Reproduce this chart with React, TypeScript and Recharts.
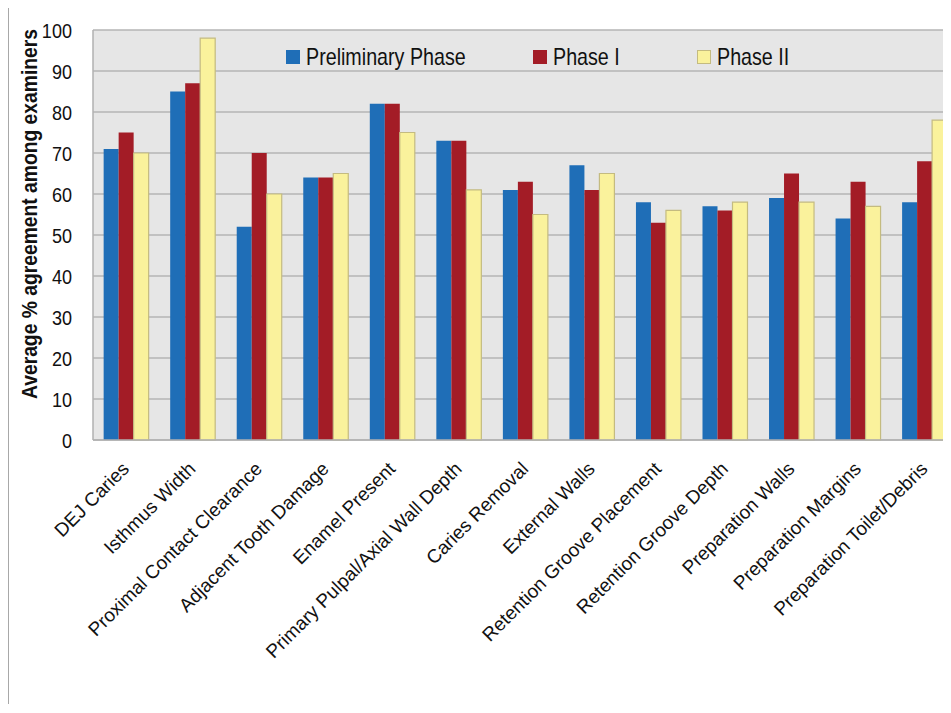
import React from 'react'
import { BarChart, Bar, XAxis, YAxis, CartesianGrid } from 'recharts'

// Criteria on the x axis
const categories = [
  'DEJ Caries',
  'Isthmus Width',
  'Proximal Contact Clearance',
  'Adjacent Tooth Damage',
  'Enamel Present',
  'Primary Pulpal/Axial Wall Depth',
  'Caries Removal',
  'External Walls',
  'Retention Groove Placement',
  'Retention Groove Depth',
  'Preparation Walls',
  'Preparation Margins',
  'Preparation Toilet/Debris',
]

// Average % agreement among examiners, per phase
const preliminaryPhase = [71, 85, 52, 64, 82, 73, 61, 67, 58, 57, 59, 54, 58]
const phaseI = [75, 87, 70, 64, 82, 73, 63, 61, 53, 56, 65, 63, 68]
const phaseII = [70, 98, 60, 65, 75, 61, 55, 65, 56, 58, 58, 57, 78]

const seriesNames = ['Preliminary Phase', 'Phase I', 'Phase II']
const yTicks = [0, 10, 20, 30, 40, 50, 60, 70, 80, 90, 100]

const COLORS = ['#1f6eb7', '#a31c26', '#faf29c']
const STROKES = ['none', 'none', '#c4bb80']
const KEYS = ['pre', 'p1', 'p2']
const LEGEND_LEFT = [277, 524, 688]

const SANS = '"Liberation Sans", Arial, sans-serif'

const data = categories.map((name, i) => ({
  name,
  pre: preliminaryPhase[i],
  p1: phaseI[i],
  p2: phaseII[i],
}))

const XTick = (props: any) => {
  const { x, y, payload } = props
  return (
    <g transform={`translate(${x + 4},${y + 30})`}>
      <text
        transform="rotate(-45)"
        textAnchor="end"
        fontFamily={SANS}
        fontSize={19}
        fill="#111"
      >
        {payload.value}
      </text>
    </g>
  )
}

// narrow-looking tick digits (condensed font is not installed)
const YTick = (props: any) => {
  const { x, y, payload } = props
  return (
    <g transform={`translate(${x},${y})`}>
      <text
        transform="scale(0.86,1)"
        textAnchor="end"
        dy="0.36em"
        fontFamily={SANS}
        fontSize={21}
        fill="#111"
      >
        {payload.value}
      </text>
    </g>
  )
}

const YLabel = () => (
  <text
    transform="translate(28,206) rotate(-90)"
    textAnchor="middle"
    fontFamily={SANS}
    fontWeight="bold"
    fontSize={22}
    textLength={370}
    lengthAdjust="spacingAndGlyphs"
    fill="#111"
  >
    Average % agreement among examiners
  </text>
)

export default function App() {
  return (
    <div
      style={{
        position: 'relative',
        width: 942,
        height: 696,
        marginTop: -1,
        borderLeft: '1px solid #a8a8a8',
        borderTop: '1px solid #a8a8a8',
        overflow: 'hidden',
        background: '#fff',
      }}
    >
      <BarChart
        width={949}
        height={696}
        data={data}
        margin={{ top: 22, right: 0, bottom: 0, left: 0 }}
        barCategoryGap="16%"
        barGap={0}
      >
        <CartesianGrid
          vertical={false}
          fill="#e6e6e6"
          stroke="#b4b4b4"
          strokeWidth={1.5}
        />
        <XAxis
          dataKey="name"
          height={264}
          interval={0}
          tickLine={false}
          tickSize={0}
          tickMargin={0}
          axisLine={{ stroke: '#b0b0b0', strokeWidth: 1.5 }}
          tick={<XTick />}
        />
        <YAxis
          width={84}
          domain={[0, 100]}
          ticks={yTicks}
          interval={0}
          tickLine={false}
          tickSize={0}
          tickMargin={21}
          axisLine={{ stroke: '#b0b0b0', strokeWidth: 1.5 }}
          tick={<YTick />}
          label={<YLabel />}
        />
        {KEYS.map((k, i) => (
          <Bar
            key={k}
            dataKey={k}
            name={seriesNames[i]}
            fill={COLORS[i]}
            stroke={STROKES[i]}
            strokeWidth={1.2}
            isAnimationActive={false}
          />
        ))}
      </BarChart>
      {seriesNames.map((s, i) => (
        <div
          key={s}
          style={{
            position: 'absolute',
            left: LEGEND_LEFT[i],
            top: 36,
            height: 26,
            display: 'flex',
            alignItems: 'center',
            gap: 6,
            fontFamily: SANS,
            fontSize: 24,
            color: '#111',
            whiteSpace: 'nowrap',
          }}
        >
          <span
            style={{
              display: 'inline-block',
              width: 12,
              height: 12,
              background: COLORS[i],
              border: i === 2 ? '1px solid #c4bb80' : '1px solid ' + COLORS[i],
            }}
          />
          <span style={{ display: 'inline-block', transform: 'scaleX(0.82)', transformOrigin: 'left center' }}>
            {s}
          </span>
        </div>
      ))}
    </div>
  )
}
